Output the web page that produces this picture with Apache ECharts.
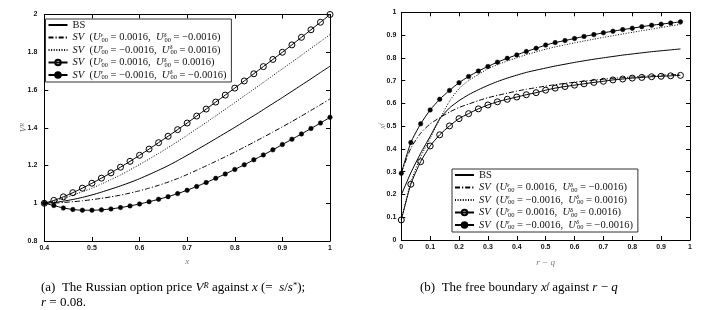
<!DOCTYPE html>
<html>
<head>
<meta charset="utf-8">
<script src="https://cdn.jsdelivr.net/npm/echarts@6/dist/echarts.min.js"></script>
<style>
html,body{margin:0;padding:0;background:#fff;}
#c{width:707px;height:310px;}
</style>
</head>
<body>
<div id="c"></div>
<script>
// ---------- data ----------
const xLeft = [0.40,0.42,0.44,0.46,0.48,0.50,0.52,0.54,0.56,0.58,0.60,0.62,0.64,0.66,0.68,0.70,0.72,0.74,0.76,0.78,0.80,0.82,0.84,0.86,0.88,0.90,0.92,0.94,0.96,0.98,1.00];
const leftBS  = [1.000,1.004,1.011,1.020,1.031,1.044,1.059,1.075,1.092,1.110,1.130,1.152,1.175,1.199,1.226,1.254,1.283,1.312,1.342,1.372,1.402,1.433,1.464,1.496,1.528,1.560,1.593,1.626,1.659,1.693,1.726];
const leftSV1 = [1.000,1.001,1.004,1.008,1.013,1.019,1.026,1.034,1.043,1.054,1.066,1.080,1.095,1.112,1.131,1.152,1.175,1.198,1.222,1.246,1.271,1.297,1.323,1.350,1.377,1.405,1.433,1.462,1.492,1.522,1.553];
const leftSV2 = [1.000,1.010,1.026,1.043,1.061,1.080,1.102,1.125,1.150,1.177,1.205,1.234,1.264,1.295,1.327,1.360,1.394,1.428,1.463,1.498,1.533,1.569,1.604,1.640,1.676,1.712,1.748,1.784,1.821,1.857,1.894];
const leftSV3 = [1.000,1.015,1.034,1.056,1.080,1.106,1.133,1.161,1.191,1.222,1.254,1.287,1.321,1.355,1.390,1.425,1.462,1.499,1.536,1.573,1.610,1.648,1.686,1.724,1.762,1.800,1.839,1.879,1.919,1.959,2.000];
const leftSV4 = [1.000,0.988,0.975,0.967,0.963,0.963,0.965,0.970,0.977,0.986,0.996,1.008,1.021,1.035,1.051,1.069,1.089,1.110,1.132,1.155,1.179,1.204,1.230,1.256,1.283,1.311,1.339,1.367,1.396,1.425,1.455];

const xRight = [0.000,0.033,0.067,0.100,0.133,0.167,0.200,0.233,0.267,0.300,0.333,0.367,0.400,0.433,0.467,0.500,0.533,0.567,0.600,0.633,0.667,0.700,0.733,0.767,0.800,0.833,0.867,0.900,0.933,0.967];
const rightBS  = [0.198,0.295,0.381,0.455,0.532,0.580,0.612,0.638,0.660,0.679,0.696,0.711,0.724,0.736,0.746,0.755,0.764,0.772,0.780,0.787,0.794,0.800,0.806,0.812,0.817,0.822,0.827,0.831,0.835,0.839];
const rightSV1 = [0.296,0.403,0.469,0.510,0.537,0.562,0.582,0.597,0.612,0.625,0.635,0.645,0.654,0.662,0.669,0.676,0.682,0.688,0.693,0.698,0.702,0.706,0.710,0.713,0.716,0.719,0.721,0.724,0.726,0.728];
const rightSV2 = [0.088,0.255,0.365,0.447,0.530,0.610,0.665,0.700,0.727,0.752,0.770,0.786,0.800,0.814,0.826,0.838,0.848,0.857,0.866,0.874,0.882,0.890,0.897,0.905,0.912,0.919,0.926,0.933,0.940,0.947];
const rightSV3 = [0.088,0.245,0.344,0.413,0.462,0.501,0.533,0.555,0.576,0.593,0.607,0.618,0.628,0.638,0.647,0.658,0.667,0.674,0.680,0.686,0.692,0.697,0.703,0.707,0.711,0.714,0.717,0.719,0.721,0.723];
const rightSV4 = [0.293,0.428,0.510,0.571,0.618,0.657,0.691,0.718,0.742,0.762,0.781,0.798,0.813,0.828,0.842,0.856,0.867,0.876,0.885,0.894,0.902,0.910,0.917,0.924,0.930,0.937,0.943,0.948,0.953,0.958];

const seriesNames = ['BS','SV1','SV2','SV3','SV4'];
const legendText = {
  BS:  '{rm|BS}',
  SV1: '{it|SV}{rm|  (}{it|U}{sup|ε}{sub|00}{rm| = 0.0016,  }{it|U}{sup|δ}{sub|00}{rm| = −0.0016)}',
  SV2: '{it|SV}{rm|  (}{it|U}{sup|ε}{sub|00}{rm| = −0.0016,  }{it|U}{sup|δ}{sub|00}{rm| = 0.0016)}',
  SV3: '{it|SV}{rm|  (}{it|U}{sup|ε}{sub|00}{rm| = 0.0016,  }{it|U}{sup|δ}{sub|00}{rm| = 0.0016)}',
  SV4: '{it|SV}{rm|  (}{it|U}{sup|ε}{sub|00}{rm| = −0.0016,  }{it|U}{sup|δ}{sub|00}{rm| = −0.0016)}'
};

// ---------- styles ----------
const SERIF = '"Liberation Serif","DejaVu Serif",serif';
const SANS = '"Liberation Sans",Arial,sans-serif';
const styleOf = {
  BS:  {lineStyle:{color:'#000',width:1,type:'solid'}, symbol:'none', itemStyle:{color:'#000'}},
  SV1: {lineStyle:{color:'#000',width:1,type:[5,2,1.2,2]}, symbol:'none', itemStyle:{color:'#000'}},
  SV2: {lineStyle:{color:'#000',width:1,type:[1,1.6]}, symbol:'none', itemStyle:{color:'#000'}},
  SV3: {lineStyle:{color:'#000',width:1,type:'solid'}, symbol:'circle', symbolSize:6,
        itemStyle:{color:'rgba(255,255,255,0)',borderColor:'#000',borderWidth:1}},
  SV4: {lineStyle:{color:'#000',width:1,type:'solid'}, symbol:'circle', symbolSize:4.5,
        itemStyle:{color:'#000',borderColor:'#000',borderWidth:0.5}}
};
function zip(xs, ys){ return xs.map((x,i)=>[x, ys[i]]); }
function mkSeries(name, xi, yi, xs, ys){
  const s = styleOf[name];
  return Object.assign({
    type:'line', name:name, xAxisIndex:xi, yAxisIndex:yi,
    data: zip(xs, ys), showSymbol: s.symbol !== 'none', smooth:0.2,
    animation:false, silent:true, z: 3
  }, JSON.parse(JSON.stringify(s)));
}

const legendRich = {
  rm:{fontFamily:SERIF,fontSize:10.5,color:'#111',lineHeight:12},
  it:{fontFamily:SERIF,fontSize:10.5,fontStyle:'italic',color:'#111',lineHeight:12},
  sup:{fontFamily:SERIF,fontSize:6.5,fontStyle:'italic',color:'#111',lineHeight:7,verticalAlign:'top',width:1},
  sub:{fontFamily:SERIF,fontSize:6.5,color:'#111',lineHeight:7,verticalAlign:'bottom'}
};
const hiddenSym = {color:'rgba(0,0,0,0)', borderColor:'rgba(0,0,0,0)', borderWidth:0, opacity:0};
function mkLegend(left, top){
  return {
    orient:'vertical', left:left, top:top,
    data:[
      {name:'BS', itemStyle:hiddenSym},
      {name:'SV1', itemStyle:hiddenSym},
      {name:'SV2', itemStyle:hiddenSym},
      {name:'SV3'},
      {name:'SV4'}
    ],
    itemWidth:19, itemHeight:7, itemGap:0.5,
    padding:[0,5,1,2], borderColor:'#333', borderWidth:1, backgroundColor:'#fff',
    selectedMode:false,
    formatter: n => legendText[n],
    textStyle:{rich:legendRich, fontFamily:SERIF, fontSize:10.5, color:'#111', lineHeight:12}
  };
}

const tickLabel = {fontSize:7, fontWeight:'bold', color:'#111', fontFamily:SANS};
const nameRich = {
  i:{fontFamily:SERIF,fontStyle:'italic',fontSize:9,color:'#777'},
  r:{fontFamily:SERIF,fontSize:9,color:'#777'},
  sup:{fontFamily:SERIF,fontStyle:'italic',fontSize:6,color:'#777',verticalAlign:'top',lineHeight:6}
};
function xAx(grid, min, max, pos, name, gap){
  return {
    type:'value', gridIndex:grid, min:min, max:max, interval:0.1, position:pos,
    axisLine:{show:true,onZero:false,lineStyle:{color:'#000',width:1}},
    axisTick:{show:true,inside:true,length:4,lineStyle:{color:'#000',width:1}},
    axisLabel:Object.assign({show: pos==='bottom', margin:4}, tickLabel),
    splitLine:{show:false},
    name: pos==='bottom' ? name : '', nameLocation:'middle', nameGap:gap, nameMoveOverlap:false,
    nameTextStyle:{rich:nameRich, fontFamily:SERIF, fontStyle:'italic', fontSize:9, color:'#777'}
  };
}
function yAx(grid, min, max, interval, pos, name, gap, margin){
  return {
    type:'value', gridIndex:grid, min:min, max:max, interval:interval, position:pos,
    axisLine:{show:true,onZero:false,lineStyle:{color:'#000',width:1}},
    axisTick:{show:true,inside:true,length:4,lineStyle:{color:'#000',width:1}},
    axisLabel:Object.assign({show: pos==='left', margin:margin}, tickLabel),
    splitLine:{show:false},
    name: pos==='left' ? name : '', nameLocation:'middle', nameGap:gap, nameRotate:90, nameMoveOverlap:false,
    nameTextStyle:{rich:nameRich, fontFamily:SERIF, fontStyle:'italic', fontSize:9, color:'#777'}
  };
}

const capRich = {
  rm:{fontFamily:SERIF,fontSize:13,fill:'#000'},
  i:{fontFamily:SERIF,fontSize:13,fontStyle:'italic',fill:'#000'},
  sup:{fontFamily:SERIF,fontSize:8.5,fontStyle:'italic',fill:'#000',verticalAlign:'top',lineHeight:8},
  supr:{fontFamily:SERIF,fontSize:8.5,fill:'#000',verticalAlign:'top',lineHeight:8}
};

const option = {
  backgroundColor:'#fff',
  animation:false,
  grid:[
    {left:44.3, top:14.5, width:285.7, height:226.5, containLabel:false},
    {left:401.3, top:12.3, width:288.7, height:227.7, containLabel:false}
  ],
  xAxis:[
    xAx(0, 0.4, 1, 'bottom', '{i|x}', 16),
    xAx(0, 0.4, 1, 'top', '', 0),
    xAx(1, 0, 1, 'bottom', '{i|r}{r| − }{i|q}', 18),
    xAx(1, 0, 1, 'top', '', 0)
  ],
  yAxis:[
    yAx(0, 0.8, 2, 0.2, 'left', '{i|V}{sup|R}', 16, 7),
    yAx(0, 0.8, 2, 0.2, 'right', '', 0, 7),
    yAx(1, 0, 1, 0.1, 'left', '{i|x}{sup|f}', 14, 5),
    yAx(1, 0, 1, 0.1, 'right', '', 0, 5)
  ],
  legend:[ mkLegend(45.5, 19), mkLegend(452, 169) ],
  series:[
    mkSeries('BS', 0, 0, xLeft, leftBS),
    mkSeries('SV1', 0, 0, xLeft, leftSV1),
    mkSeries('SV2', 0, 0, xLeft, leftSV2),
    mkSeries('SV3', 0, 0, xLeft, leftSV3),
    mkSeries('SV4', 0, 0, xLeft, leftSV4),
    mkSeries('BS', 2, 2, xRight, rightBS),
    mkSeries('SV1', 2, 2, xRight, rightSV1),
    mkSeries('SV2', 2, 2, xRight, rightSV2),
    mkSeries('SV3', 2, 2, xRight, rightSV3),
    mkSeries('SV4', 2, 2, xRight, rightSV4)
  ],
  graphic:[
    {type:'text', left:41, top:281, silent:true, style:{
      text:'{rm|(a)  The Russian option price }{i|V}{sup|R}{rm| against }{i|x}{rm| (=  }{i|s}{rm|/}{i|s}{supr|*}{rm|);}',
      rich:capRich, fontFamily:SERIF, fontSize:13, fill:'#000'}},
    {type:'text', left:41, top:296, silent:true, style:{
      text:'{i|r}{rm| = 0.08.}', rich:capRich, fontFamily:SERIF, fontSize:13, fill:'#000'}},
    {type:'text', left:420, top:281, silent:true, style:{
      text:'{rm|(b)  The free boundary }{i|x}{sup|f}{rm| against }{i|r}{rm| − }{i|q}',
      rich:capRich, fontFamily:SERIF, fontSize:13, fill:'#000'}}
  ]
};
const chart = echarts.init(document.getElementById('c'), null, {renderer:'canvas'});
chart.setOption(option);
</script>
</body>
</html>
